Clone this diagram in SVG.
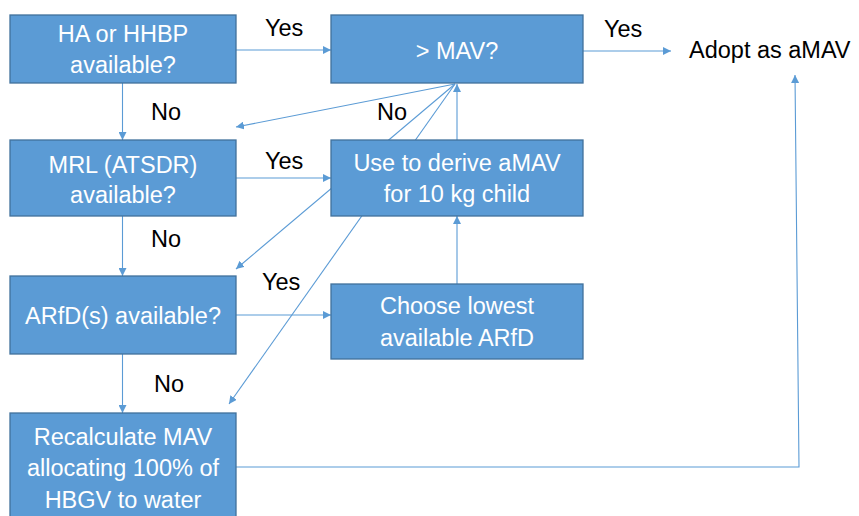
<svg xmlns="http://www.w3.org/2000/svg" width="859" height="516" viewBox="0 0 859 516">
<style>
.box{fill:#5B9BD5;stroke:#41719C;stroke-width:1.3}
.bt{fill:#fff;font-family:"Liberation Sans",Arial,sans-serif;font-size:23.5px;text-anchor:middle}
.lb{fill:#000;font-family:"Liberation Sans",Arial,sans-serif;font-size:23.5px}
.c{stroke:#5B9BD5;stroke-width:1.1;fill:none}
</style>
<defs>
<marker id="a" viewBox="0 0 10 10" refX="10" refY="5" markerWidth="8" markerHeight="8" markerUnits="userSpaceOnUse" orient="auto">
<path d="M0,0 L10,5 L0,10 z" fill="#5B9BD5"/>
</marker>
</defs>
<g id="connectors">
<line class="c" x1="236" y1="50" x2="331" y2="50" marker-end="url(#a)"/>
<line class="c" x1="583" y1="51" x2="671" y2="51" marker-end="url(#a)"/>
<line class="c" x1="122.5" y1="83" x2="122.5" y2="140" marker-end="url(#a)"/>
<line class="c" x1="455" y1="84" x2="236" y2="127" marker-end="url(#a)"/>
<line class="c" x1="455" y1="84" x2="236" y2="269" marker-end="url(#a)"/>
<line class="c" x1="455" y1="84" x2="229" y2="404" marker-end="url(#a)"/>
<line class="c" x1="236" y1="178" x2="331" y2="178" marker-end="url(#a)"/>
<line class="c" x1="236" y1="315" x2="331" y2="315" marker-end="url(#a)"/>
<line class="c" x1="457" y1="284" x2="457" y2="216" marker-end="url(#a)"/>
<line class="c" x1="457" y1="140" x2="457" y2="84" marker-end="url(#a)"/>
<line class="c" x1="122.5" y1="216" x2="122.5" y2="276" marker-end="url(#a)"/>
<line class="c" x1="122.5" y1="354" x2="122.5" y2="413" marker-end="url(#a)"/>
<polyline class="c" points="236,467 799,467 795,75" marker-end="url(#a)"/>
</g>
<g id="n1"><rect class="box" x="10" y="15" width="226" height="68"/><text class="bt" x="123" y="42">HA or HHBP</text><text class="bt" x="123" y="73">available?</text></g>
<g id="n2"><rect class="box" x="331" y="15" width="252" height="68"/><text class="bt" x="457" y="59">&gt; MAV?</text></g>
<g id="n3"><rect class="box" x="10" y="140" width="226" height="76"/><text class="bt" x="123" y="173">MRL (ATSDR)</text><text class="bt" x="123" y="203">available?</text></g>
<g id="n4"><rect class="box" x="331" y="140" width="252" height="76"/><text class="bt" x="457" y="171">Use to derive aMAV</text><text class="bt" x="457" y="202">for 10 kg child</text></g>
<g id="n5"><rect class="box" x="10" y="276" width="226" height="78"/><text class="bt" x="123" y="324">ARfD(s) available?</text></g>
<g id="n6"><rect class="box" x="331" y="284" width="252" height="75"/><text class="bt" x="457" y="314">Choose lowest</text><text class="bt" x="457" y="346">available ARfD</text></g>
<g id="n7"><rect class="box" x="10" y="413" width="226" height="110"/><text class="bt" x="123" y="445">Recalculate MAV</text><text class="bt" x="123" y="476">allocating 100% of</text><text class="bt" x="123" y="508">HBGV to water</text></g>
<g id="n8"><text class="lb" x="689" y="58">Adopt as aMAV</text></g>
<g id="labels">
<text class="lb" x="265" y="36">Yes</text>
<text class="lb" x="604" y="37">Yes</text>
<text class="lb" x="151" y="120">No</text>
<text class="lb" x="377" y="120">No</text>
<text class="lb" x="265" y="169">Yes</text>
<text class="lb" x="151" y="247">No</text>
<text class="lb" x="262" y="290">Yes</text>
<text class="lb" x="154" y="392">No</text>
</g>
</svg>
